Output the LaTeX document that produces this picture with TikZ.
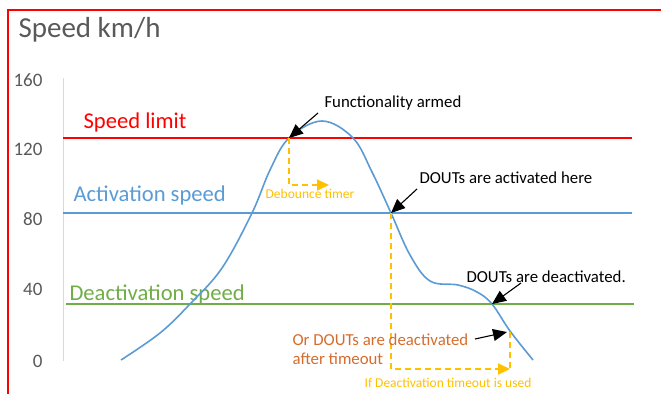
\documentclass[tikz,border=0pt]{standalone}
\usepackage{fontspec}
\setmainfont{Carlito}
\usetikzlibrary{arrows.meta, positioning}

\definecolor{limitred}{RGB}{255,0,0}
\definecolor{actblue}{RGB}{91,155,213}
\definecolor{deactgreen}{RGB}{112,173,71}
\definecolor{timerorange}{RGB}{255,192,0}
\definecolor{noteorange}{RGB}{214,108,44}
\definecolor{axisgray}{RGB}{89,89,89}

\tikzset{
    level/.style={line width=1.6pt},
    tick/.style={anchor=east, text=axisgray, font=\fontsize{19}{19}\selectfont},
    levellabel/.style={anchor=west, font=\fontsize{22.6}{22.6}\selectfont},
    note/.style={anchor=west, font=\fontsize{16.8}{19}\selectfont},
    smallnote/.style={text=timerorange, font=\fontsize{13.5}{13.5}\selectfont},
    pointer/.style={-{Triangle[length=14pt,width=12pt]}, line width=1.1pt},
    timer/.style={timerorange, dashed, dash pattern=on 6pt off 4pt, line width=1.8pt},
}

\begin{document}
\begin{tikzpicture}[x=1pt, y=-1pt]
    \useasboundingbox (0,0) rectangle (661,394);

    % Frame
    \draw[limitred, line width=1.8pt] (8,394) -- (8,10) -- (661,10);

    % Title and axis
    \node[anchor=west, text=axisgray, font=\fontsize{29}{29}\selectfont] (title) at (15,30) {Speed km/h};
    \draw[gray!30, line width=1pt] (63,78) -- (63,361);
    \node[tick] (t160) at (46,80) {160};
    \node[tick] (t120) at (46,149) {120};
    \node[tick] (t80) at (46,219) {80};
    \node[tick] (t40) at (46,289) {40};
    \node[tick] (t0) at (46,361) {0};

    % Speed levels
    \draw[level, limitred] (63,138) -- (632,138);
    \draw[level, actblue] (63,213) -- (632,213);
    \draw[level, deactgreen] (66,304) -- (634,304);
    \node[levellabel, text=limitred] (limit) at (80,122) {Speed limit};
    \node[levellabel, text=actblue] (activation) at (70,195) {Activation speed};
    \node[levellabel, text=deactgreen] (deactivation) at (66,294) {Deactivation speed};

    % Speed curve
    \draw[actblue, line width=1.6pt] plot[smooth, tension=0.6] coordinates {
        (121,360) (160,333) (190,304) (222,268) (252,213) (270,170) (289,138)
        (322,121) (353,138) (372,172) (391,213) (410,255)
        (430,281) (458,285) (477,292) (492,304) (510,331) (533,360)};

    % Points on the curve
    \coordinate (arm) at (289,138);
    \coordinate (act) at (391,213);
    \coordinate (deact) at (492,304);
    \coordinate (tout) at (510,332);
    \coordinate (debend) at (329,185);
    \coordinate (toutend) at (510,369);

    % Timers
    \draw[timer, -{Triangle[length=12pt,width=11pt]}] (arm) |- (debend);
    \node[smallnote] (debounce) at (310,194) {Debounce timer};
    \draw[timer, -{Triangle[length=12pt,width=11pt]}] (act) |- (toutend);
    \draw[timer] (tout) -- (toutend);
    \node[smallnote] (timeout) at (448,383) {If Deactivation timeout is used};

    % Notes
    \node[note] (armed) at (321,103) {Functionality armed};
    \node[note] (activated) at (416,178) {DOUTs are activated here};
    \node[note] (deactivated) at (463,277) {DOUTs are deactivated.};
    \node[note, text=noteorange, align=left] (after) at (289,349) {Or DOUTs are deactivated\\after timeout};
    \draw[pointer] ([shift={(-3,10)}]armed.west) -- (arm);
    \draw[pointer] ([shift={(1,11)}]activated.west) -- (act);
    \draw[pointer] ([shift={(58,6)}]deactivated.west) -- (deact);
    \draw[pointer] ([shift={(186,-10)}]after.west) -- ([xshift=-3pt]tout);

\end{tikzpicture}
\end{document}
